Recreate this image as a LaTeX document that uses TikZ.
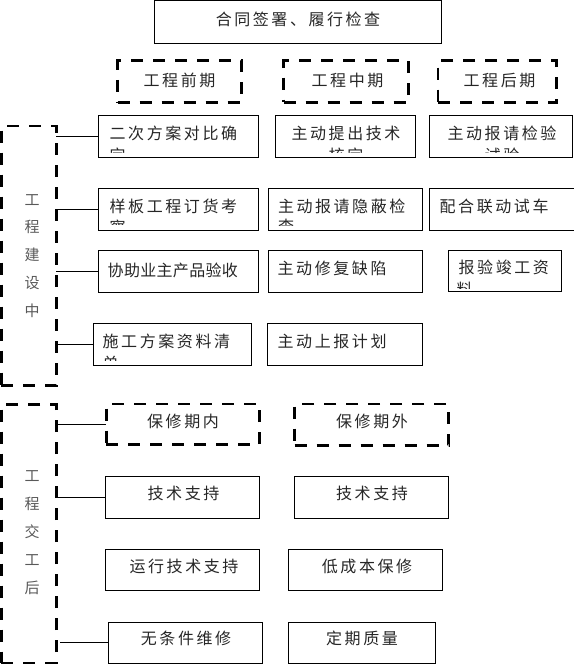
\documentclass[tikz,border=0pt]{standalone}
\usepackage{fontspec}
\setmainfont{Noto Sans CJK SC}
\newcommand\lblfont{\fontsize{16}{19}\selectfont\addfontfeature{LetterSpace=16}}
\newcommand\tightfont{\fontsize{16}{19}\selectfont\addfontfeature{LetterSpace=2}}
\newcommand\vfont{\fontsize{15}{27.9}\selectfont}
\tikzset{
  sbox/.style={draw, line width=0.9pt, inner sep=0pt, outer sep=0pt, anchor=north west},
  dbox/.style={draw, line width=2.8pt, dash pattern=on 12pt off 10pt, inner sep=0pt, outer sep=0pt, anchor=north west},
  lbl/.style={inner sep=0pt, font=\lblfont, text=black!85},
  tlbl/.style={inner sep=0pt, font=\tightfont, text=black!85},
  vlbl/.style={inner sep=0pt, font=\vfont, text=black!65, align=center},
  conn/.style={draw, line width=0.9pt},
}
\begin{document}
\begin{tikzpicture}[x=1pt, y=-1pt]
\useasboundingbox (0,0) rectangle (573,664);

% top
\node[sbox, minimum width=287.4pt, minimum height=42.3pt] (top) at (154.3,0.7) {};
\node[lbl] (ttop) at (298,19) {合同签署、履行检查};

% phases
\node[dbox, minimum width=123.6pt, minimum height=41.6pt] (ph1) at (117.7,60.7) {};
\node[dbox, minimum width=124.7pt, minimum height=41.6pt] (ph2) at (283.7,60.7) {};
\node[dbox, minimum width=118.7pt, minimum height=41.6pt] (ph3) at (438,60.7) {};
\node[lbl] (tph1) at (179.5,80.5) {工程前期};
\node[lbl] (tph2) at (347.5,80.5) {工程中期};
\node[lbl] (tph3) at (499.5,80.5) {工程后期};

% group frames
\node[dbox, minimum width=54.8pt, minimum height=259.7pt] (g1) at (1.4,126) {};
\node[dbox, minimum width=54.8pt, minimum height=259pt] (g2) at (1.4,404.3) {};
\node[vlbl] (v1) at (32,256) {工\\程\\建\\设\\中};
\node[vlbl] (v2) at (32,532.5) {工\\程\\交\\工\\后};

% construction boxes
\node[sbox, minimum width=159.3pt, minimum height=42pt] (b11) at (98.7,115.3) {};
\node[sbox, minimum width=140.7pt, minimum height=42pt] (b12) at (275,115.3) {};
\node[sbox, minimum width=143.2pt, minimum height=42pt] (b13) at (429.3,115) {};
\node[sbox, minimum width=159.3pt, minimum height=41.7pt] (b21) at (98.7,188.3) {};
\node[sbox, minimum width=154.4pt, minimum height=41.7pt] (b22) at (268.3,188.3) {};
\node[sbox, minimum width=146pt, minimum height=41.7pt] (b23) at (429.3,188.3) {};
\node[sbox, minimum width=159.7pt, minimum height=42pt] (b31) at (98.3,250) {};
\node[sbox, minimum width=154.4pt, minimum height=42pt] (b32) at (268.3,250) {};
\node[sbox, minimum width=113.4pt, minimum height=41.7pt] (b33) at (448.3,250) {};
\node[sbox, minimum width=158.7pt, minimum height=41.7pt] (b41) at (93,323.3) {};
\node[sbox, minimum width=154.4pt, minimum height=41.7pt] (b42) at (267.7,323.3) {};

\node[lbl, anchor=west] (t11) at (109.5,133.5) {二次方案对比确};
\node[lbl] (t12) at (346,133) {主动提出技术};
\node[lbl] (t13) at (502,133) {主动报请检验};
\node[lbl, anchor=west] (t21) at (109.5,206.5) {样板工程订货考};
\node[lbl, anchor=west] (t22) at (277.8,206) {主动报请隐蔽检};
\node[lbl, anchor=west] (t23) at (439.5,206) {配合联动试车};
\node[tlbl, anchor=west] (t31) at (107.5,270) {协助业主产品验收};
\node[lbl, anchor=west] (t32) at (277.5,268) {主动修复缺陷};
\node[lbl, anchor=west] (t33) at (458.5,267) {报验竣工资};
\node[lbl, anchor=west] (t41) at (102.5,341) {施工方案资料清};
\node[lbl, anchor=west] (t42) at (277.5,341) {主动上报计划};

% clipped second lines
\begin{scope}
\clip (b11.north west) rectangle ([yshift=5pt]b11.south east);
\node[lbl, anchor=west] (t11b) at (109.5,155) {定};
\end{scope}
\begin{scope}
\clip (b12.north west) rectangle ([yshift=5pt]b12.south east);
\node[lbl] (t12b) at (346,155.5) {核定};
\end{scope}
\begin{scope}
\clip (b13.north west) rectangle ([yshift=5pt]b13.south east);
\node[lbl] (t13b) at (502,155.5) {试验};
\end{scope}
\begin{scope}
\clip (b21.north west) rectangle ([yshift=6pt]b21.south east);
\node[lbl, anchor=west] (t21b) at (109.5,227) {察};
\end{scope}
\begin{scope}
\clip (b22.north west) rectangle ([yshift=5pt]b22.south east);
\node[lbl, anchor=west] (t22b) at (277.8,226.5) {查};
\end{scope}
\begin{scope}
\clip (b33.north west) rectangle ([yshift=3.5pt]b33.south east);
\node[lbl, anchor=west] (t33b) at (456.5,289.5) {料};
\end{scope}
\begin{scope}
\clip (b41.north west) rectangle ([yshift=4.5pt]b41.south east);
\node[lbl, anchor=west] (t41b) at (102.5,363) {单};
\end{scope}

% after-completion boxes
\node[dbox, minimum width=153.3pt, minimum height=40.7pt] (c1) at (106.2,404) {};
\node[dbox, minimum width=154pt, minimum height=41.5pt] (c2) at (294.7,404) {};
\node[sbox, minimum width=154pt, minimum height=41.6pt] (d1) at (105.3,476.7) {};
\node[sbox, minimum width=154.3pt, minimum height=41.6pt] (d2) at (294,476.7) {};
\node[sbox, minimum width=154pt, minimum height=40.7pt] (e1) at (105.3,549.3) {};
\node[sbox, minimum width=154pt, minimum height=40.7pt] (e2) at (288.3,549.3) {};
\node[sbox, minimum width=154pt, minimum height=41pt] (f1) at (108.3,622.3) {};
\node[sbox, minimum width=147.4pt, minimum height=41pt] (f2) at (288.3,622.3) {};

\node[lbl] (tc1) at (183,421.7) {保修期内};
\node[lbl] (tc2) at (372,421.7) {保修期外};
\node[lbl] (td1) at (183.5,493.3) {技术支持};
\node[lbl] (td2) at (372,493.3) {技术支持};
\node[lbl] (te1) at (184,566.7) {运行技术支持};
\node[lbl] (te2) at (367,566.7) {低成本保修};
\node[lbl] (tf1) at (186,638.3) {无条件维修};
\node[lbl] (tf2) at (362,638.3) {定期质量};

% connectors
\draw[conn] (g1.east |- b11.west) -- (b11.west);
\draw[conn] (g1.east |- b21.west) -- (b21.west);
\draw[conn] (g1.east |- b31.west) -- (b31.west);
\draw[conn] (g1.east |- b41.west) -- (b41.west);
\draw[conn] (g2.east |- c1.west) -- (c1.west);
\draw[conn] (g2.east |- d1.west) -- (d1.west);
\draw[conn] ([xshift=4pt]g2.east |- f1.west) -- (f1.west);
\end{tikzpicture}
\end{document}
